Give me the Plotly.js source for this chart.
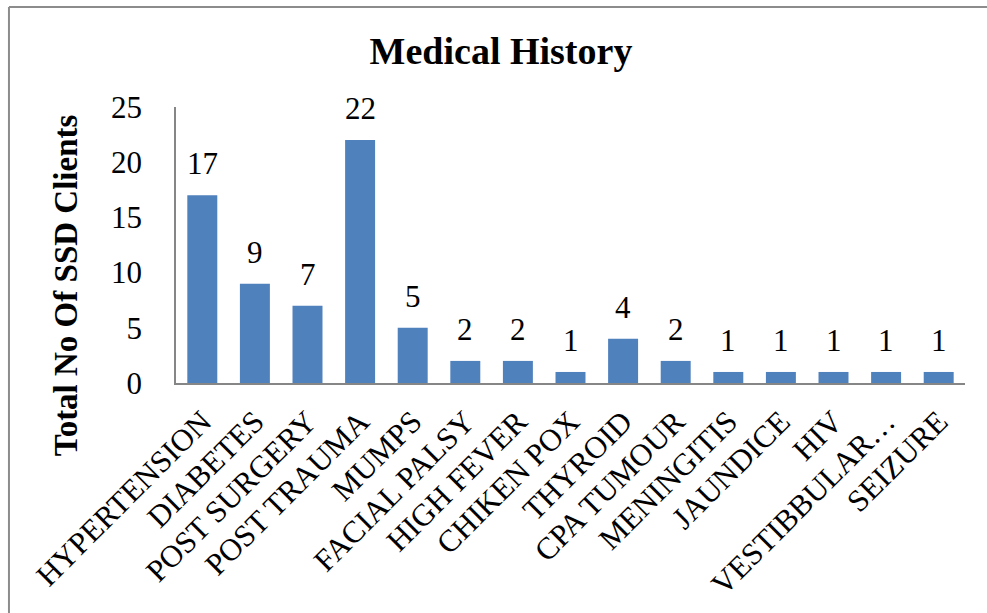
<!DOCTYPE html>
<html>
<head>
<meta charset="utf-8">
<script src="https://cdn.plot.ly/plotly-3.0.1.min.js"></script>
<style>
  html, body { margin: 0; padding: 0; background: #fff; }
  #chart { width: 987px; height: 613px; }
</style>
</head>
<body>
<div id="chart"></div>
<script>
const categories = ["HYPERTENSION", "DIABETES", "POST SURGERY", "POST TRAUMA", "MUMPS",
  "FACIAL PALSY", "HIGH FEVER", "CHIKEN POX", "THYROID", "CPA TUMOUR",
  "MENINGITIS", "JAUNDICE", "HIV", "VESTIBBULAR…", "SEIZURE"];
const clients = [17, 9, 7, 22, 5, 2, 2, 1, 4, 2, 1, 1, 1, 1, 1];
const yTicks = [0, 5, 10, 15, 20, 25];

const serif = "'Liberation Serif', 'Times New Roman', serif";
const axisGray = "#868686";

const trace = {
  type: "bar",
  x: categories,
  y: clients,
  cliponaxis: false,
  marker: { color: "#4F81BD" },
  hoverinfo: "x+y"
};

const valueLabels = categories.map((c, i) => ({
  x: c, y: clients[i], xref: "x", yref: "y",
  text: String(clients[i]),
  showarrow: false, xanchor: "center", yanchor: "bottom",
  yshift: 12,
  font: { family: serif, size: 31, color: "#000" }
}));

const layout = {
  width: 987,
  height: 613,
  margin: { l: 176, r: 22, t: 107, b: 230 },
  paper_bgcolor: "#fff",
  plot_bgcolor: "#fff",
  showlegend: false,
  bargap: 0.43,
  font: { family: serif, color: "#000" },
  title: {
    text: "<b>Medical History</b>",
    font: { family: serif, size: 38, color: "#000" },
    x: 0.5076, xanchor: "center",
    y: 0.918, yanchor: "middle"
  },
  xaxis: {
    type: "category",
    tickangle: -45,
    tickfont: { family: serif, size: 31, color: "#000" },
    showline: true, linecolor: axisGray, linewidth: 2,
    ticks: "", showgrid: false, zeroline: false,
    ticklabelstandoff: 6
  },
  yaxis: {
    range: [0, 25],
    tickvals: yTicks,
    ticktext: yTicks.map(String),
    tickfont: { family: serif, size: 31, color: "#000" },
    showline: true, linecolor: axisGray, linewidth: 1.5,
    ticks: "", showgrid: false, zeroline: false,
    ticklabelstandoff: 26
  },
  annotations: valueLabels.concat([{
    text: "<b>Total No Of SSD Clients</b>",
    xref: "paper", yref: "paper",
    x: -0.139, y: 0.355,
    xanchor: "center", yanchor: "middle",
    textangle: -90, showarrow: false,
    font: { family: serif, size: 33, color: "#000" }
  }]),
  shapes: [
    { type: "line", xref: "paper", yref: "paper",
      x0: -0.2117, x1: -0.2117, y0: -1, y1: 1.362,
      line: { color: "#8c8c8c", width: 2 } },
    { type: "line", xref: "paper", yref: "paper",
      x0: -0.2117, x1: 1.05, y0: 1.362, y1: 1.362,
      line: { color: "#8c8c8c", width: 2 } }
  ]
};

Plotly.newPlot("chart", [trace], layout, { displayModeBar: false, responsive: false });
</script>
</body>
</html>
